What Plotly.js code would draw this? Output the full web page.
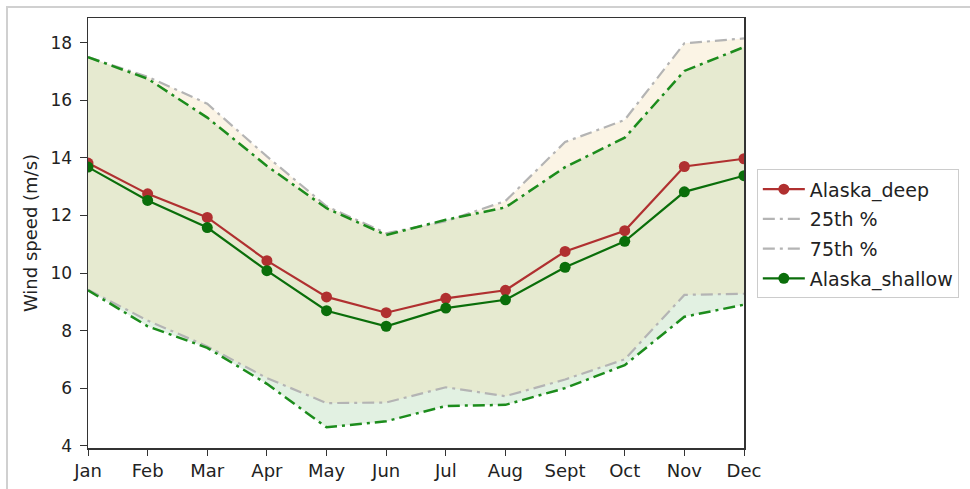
<!DOCTYPE html>
<html>
<head>
<meta charset="utf-8">
<script src="https://cdn.plot.ly/plotly-3.0.1.min.js"></script>
<style>
  html, body { margin: 0; padding: 0; background: #fff; }
  #wrap { position: relative; width: 970px; height: 489px; }
  #chart { width: 970px; height: 489px; }
  #frame { position: absolute; left: 6px; top: 6px; width: 964px; height: 483px;
           border-top: 2px solid #d0d0d0; border-left: 2px solid #d0d0d0;
           box-sizing: border-box; pointer-events: none; }
</style>
</head>
<body>
<div id="wrap"><div id="chart"></div><div id="frame"></div></div>
<script>
const months = ["Jan","Feb","Mar","Apr","May","Jun","Jul","Aug","Sept","Oct","Nov","Dec"];
const deepMean    = [13.82, 12.75, 11.93, 10.43, 9.17, 8.62, 9.12, 9.40, 10.75, 11.47, 13.70, 13.97];
const shallowMean = [13.68, 12.52, 11.58, 10.08, 8.69, 8.15, 8.78, 9.07, 10.20, 11.10, 12.82, 13.38];
const deepP25     = [9.42, 8.35, 7.45, 6.35, 5.48, 5.50, 6.03, 5.72, 6.30, 7.00, 9.24, 9.28];
const deepP75     = [17.50, 16.82, 15.88, 14.05, 12.32, 11.38, 11.80, 12.50, 14.55, 15.32, 17.98, 18.15];
const shallowP25  = [9.40, 8.15, 7.40, 6.15, 4.64, 4.85, 5.38, 5.42, 6.00, 6.80, 8.48, 8.90];
const shallowP75  = [17.50, 16.75, 15.40, 13.72, 12.25, 11.32, 11.85, 12.28, 13.68, 14.70, 17.02, 17.85];

const dd = "12px,5px,3px,5px";
const none = { width: 0, color: "rgba(0,0,0,0)" };
const traces = [
  // fill bands (no legend)
  { x: months, y: shallowP25, mode: "lines", showlegend: false, line: none, hoverinfo: "skip" },
  { x: months, y: shallowP75, mode: "lines", showlegend: false, line: none, hoverinfo: "skip",
    fill: "tonexty", fillcolor: "rgba(150,205,150,0.28)" },
  { x: months, y: deepP25, mode: "lines", showlegend: false, line: none, hoverinfo: "skip" },
  { x: months, y: deepP75, mode: "lines", showlegend: false, line: none, hoverinfo: "skip",
    fill: "tonexty", fillcolor: "rgba(240,215,160,0.28)" },
  // percentile lines
  { x: months, y: deepP25, mode: "lines", name: "25th %", legendgroup: "b", legendrank: 2,
    line: { color: "#b4b4b4", width: 2.2, dash: dd } },
  { x: months, y: deepP75, mode: "lines", name: "75th %", legendgroup: "c", legendrank: 3,
    line: { color: "#b4b4b4", width: 2.2, dash: dd } },
  { x: months, y: shallowP25, mode: "lines", showlegend: false,
    line: { color: "#1c8c1c", width: 2.5, dash: dd }, hoverinfo: "skip" },
  { x: months, y: shallowP75, mode: "lines", showlegend: false,
    line: { color: "#1c8c1c", width: 2.5, dash: dd }, hoverinfo: "skip" },
  // means
  { x: months, y: deepMean, mode: "lines+markers", name: "Alaska_deep", legendgroup: "a", legendrank: 1,
    line: { color: "#b03030", width: 2.2 }, marker: { color: "#b03030", size: 11 } },
  { x: months, y: shallowMean, mode: "lines+markers", name: "Alaska_shallow", legendgroup: "d", legendrank: 4,
    line: { color: "#0a6e0a", width: 2.2 }, marker: { color: "#0a6e0a", size: 11 } }
];

const layout = {
  width: 970, height: 489,
  margin: { l: 88, r: 225, t: 18, b: 41 },
  paper_bgcolor: "#fff", plot_bgcolor: "#fff",
  font: { family: "DejaVu Sans, sans-serif", size: 17, color: "#222" },
  showlegend: true,
  legend: {
    x: 1.018, xanchor: "left", y: 0.648, yanchor: "top",
    bgcolor: "#fff", bordercolor: "#cccccc", borderwidth: 1,
    font: { size: 19, color: "#222" }, traceorder: "grouped", tracegroupgap: 2,
    itemwidth: 42
  },
  xaxis: {
    type: "category", range: [0, 11], showgrid: false, zeroline: false,
    showline: true, linecolor: "#333", linewidth: 1.5, mirror: true,
    ticks: "outside", ticklen: 6, tickcolor: "#333", tickfont: { size: 18 }
  },
  yaxis: {
    range: [3.92, 18.86], tickvals: [4, 6, 8, 10, 12, 14, 16, 18],
    showgrid: false, zeroline: false,
    showline: true, linecolor: "#333", linewidth: 1.5, mirror: true,
    ticks: "outside", ticklen: 7, tickcolor: "#333", tickfont: { size: 17 },
    ticklabelstandoff: 4,
    title: { text: "Wind speed (m/s)", font: { size: 18 }, standoff: 8 }
  }
};

Plotly.newPlot("chart", traces, layout, { displayModeBar: false, staticPlot: true });
</script>
</body>
</html>
